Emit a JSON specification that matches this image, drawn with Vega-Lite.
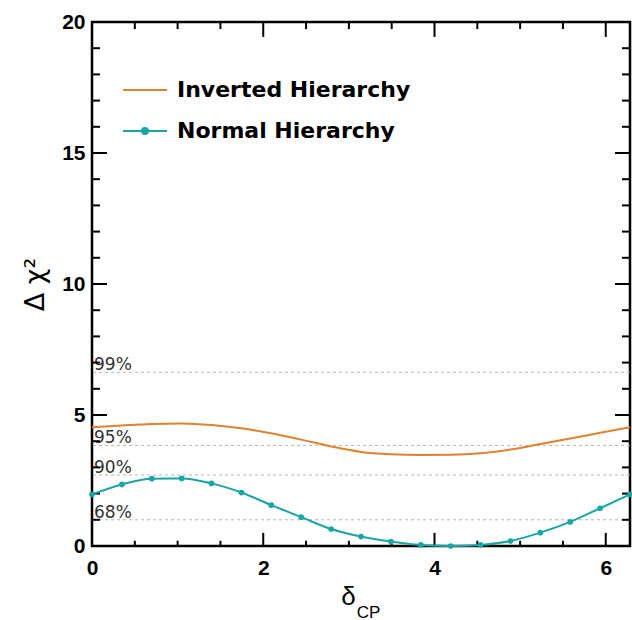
{
  "$schema": "https://vega.github.io/schema/vega-lite/v6.json",
  "width": 538,
  "height": 524,
  "autosize": {"type": "none"},
  "padding": {"left": 92, "top": 22, "right": 2, "bottom": 74},
  "background": "white",
  "config": {
    "view": {"stroke": "black", "strokeWidth": 2.5},
    "font": "Liberation Sans",
    "axis": {"grid": false, "domain": false}
  },
  "datasets": {
    "curves": [
      {"series": "Inverted Hierarchy", "delta": 0.000, "chi2": 4.53},
      {"series": "Inverted Hierarchy", "delta": 0.349, "chi2": 4.60},
      {"series": "Inverted Hierarchy", "delta": 0.698, "chi2": 4.66},
      {"series": "Inverted Hierarchy", "delta": 1.047, "chi2": 4.68},
      {"series": "Inverted Hierarchy", "delta": 1.396, "chi2": 4.62},
      {"series": "Inverted Hierarchy", "delta": 1.745, "chi2": 4.49},
      {"series": "Inverted Hierarchy", "delta": 2.094, "chi2": 4.30},
      {"series": "Inverted Hierarchy", "delta": 2.443, "chi2": 4.06},
      {"series": "Inverted Hierarchy", "delta": 2.793, "chi2": 3.80},
      {"series": "Inverted Hierarchy", "delta": 3.142, "chi2": 3.59},
      {"series": "Inverted Hierarchy", "delta": 3.491, "chi2": 3.50},
      {"series": "Inverted Hierarchy", "delta": 3.840, "chi2": 3.47},
      {"series": "Inverted Hierarchy", "delta": 4.189, "chi2": 3.48},
      {"series": "Inverted Hierarchy", "delta": 4.538, "chi2": 3.54},
      {"series": "Inverted Hierarchy", "delta": 4.887, "chi2": 3.68},
      {"series": "Inverted Hierarchy", "delta": 5.236, "chi2": 3.89},
      {"series": "Inverted Hierarchy", "delta": 5.585, "chi2": 4.10},
      {"series": "Inverted Hierarchy", "delta": 5.934, "chi2": 4.32},
      {"series": "Inverted Hierarchy", "delta": 6.283, "chi2": 4.53},
      {"series": "Normal Hierarchy", "delta": 0.000, "chi2": 1.97},
      {"series": "Normal Hierarchy", "delta": 0.349, "chi2": 2.35},
      {"series": "Normal Hierarchy", "delta": 0.698, "chi2": 2.57},
      {"series": "Normal Hierarchy", "delta": 1.047, "chi2": 2.58},
      {"series": "Normal Hierarchy", "delta": 1.396, "chi2": 2.39},
      {"series": "Normal Hierarchy", "delta": 1.745, "chi2": 2.04},
      {"series": "Normal Hierarchy", "delta": 2.094, "chi2": 1.56},
      {"series": "Normal Hierarchy", "delta": 2.443, "chi2": 1.10},
      {"series": "Normal Hierarchy", "delta": 2.793, "chi2": 0.65},
      {"series": "Normal Hierarchy", "delta": 3.142, "chi2": 0.36},
      {"series": "Normal Hierarchy", "delta": 3.491, "chi2": 0.17},
      {"series": "Normal Hierarchy", "delta": 3.840, "chi2": 0.04},
      {"series": "Normal Hierarchy", "delta": 4.189, "chi2": 0.00},
      {"series": "Normal Hierarchy", "delta": 4.538, "chi2": 0.04},
      {"series": "Normal Hierarchy", "delta": 4.887, "chi2": 0.19},
      {"series": "Normal Hierarchy", "delta": 5.236, "chi2": 0.51},
      {"series": "Normal Hierarchy", "delta": 5.585, "chi2": 0.92},
      {"series": "Normal Hierarchy", "delta": 5.934, "chi2": 1.44},
      {"series": "Normal Hierarchy", "delta": 6.283, "chi2": 1.97}
    ],
    "cl": [
      {"level": "99%", "value": 6.63},
      {"level": "95%", "value": 3.84},
      {"level": "90%", "value": 2.71},
      {"level": "68%", "value": 1.0}
    ],
    "ymajor": [{"v": 0}, {"v": 5}, {"v": 10}, {"v": 15}, {"v": 20}],
    "yminor": [{"v": 1}, {"v": 2}, {"v": 3}, {"v": 4}, {"v": 6}, {"v": 7}, {"v": 8}, {"v": 9}, {"v": 11}, {"v": 12}, {"v": 13}, {"v": 14}, {"v": 16}, {"v": 17}, {"v": 18}, {"v": 19}],
    "xmajor": [{"v": 0}, {"v": 2}, {"v": 4}, {"v": 6}],
    "xminor": [{"v": 0.5}, {"v": 1}, {"v": 1.5}, {"v": 2.5}, {"v": 3}, {"v": 3.5}, {"v": 4.5}, {"v": 5}, {"v": 5.5}]
  },
  "resolve": {"scale": {"x": "shared", "y": "shared", "color": "shared"}, "axis": {"x": "independent", "y": "independent"}},
  "layer": [
    {
      "data": {"name": "cl"},
      "mark": {"type": "rule", "stroke": "#b4b4b4", "strokeDash": [3, 3], "strokeWidth": 1},
      "encoding": {
        "y": {"field": "value", "type": "quantitative", "scale": {"domain": [0, 20], "nice": false, "zero": false},
          "axis": {"orient": "left", "offset": -15, "values": [0, 5, 10, 15, 20], "ticks": false, "tickSize": 15, "labelPadding": 22, "labelFontSize": 21, "labelFontWeight": "bold", "labelColor": "black", "labelFont": "Liberation Sans", "labelFlush": false, "labelOverlap": false,
            "title": "Δ χ²", "titleColor": "black", "titleFont": "DejaVu Sans", "titleFontSize": 27, "titleFontWeight": "normal", "titleX": -64, "titleY": 262, "titleAngle": -90, "titleAlign": "center", "titleBaseline": "alphabetic"}}
      }
    },
    {
      "data": {"name": "cl"},
      "mark": {"type": "text", "align": "left", "baseline": "alphabetic", "dx": 2, "dy": -2, "fontSize": 17, "color": "#333", "font": "DejaVu Sans"},
      "encoding": {
        "x": {"datum": 0, "type": "quantitative", "axis": null},
        "y": {"field": "value", "type": "quantitative", "axis": null},
        "text": {"field": "level"}
      }
    },
    {
      "data": {"name": "ymajor"},
      "mark": {"type": "rule", "color": "black", "strokeWidth": 2},
      "encoding": {"y": {"field": "v", "type": "quantitative", "axis": null}, "x": {"datum": 0, "type": "quantitative", "axis": null}, "x2": {"datum": 0.175}}
    },
    {
      "data": {"name": "ymajor"},
      "mark": {"type": "rule", "color": "black", "strokeWidth": 2},
      "encoding": {"y": {"field": "v", "type": "quantitative", "axis": null}, "x": {"datum": 6.2832, "type": "quantitative", "axis": null}, "x2": {"datum": 6.108}}
    },
    {
      "data": {"name": "yminor"},
      "mark": {"type": "rule", "color": "black", "strokeWidth": 2},
      "encoding": {"y": {"field": "v", "type": "quantitative", "axis": null}, "x": {"datum": 0, "type": "quantitative", "axis": null}, "x2": {"datum": 0.093}}
    },
    {
      "data": {"name": "yminor"},
      "mark": {"type": "rule", "color": "black", "strokeWidth": 2},
      "encoding": {"y": {"field": "v", "type": "quantitative", "axis": null}, "x": {"datum": 6.2832, "type": "quantitative", "axis": null}, "x2": {"datum": 6.19}}
    },
    {
      "data": {"name": "xmajor"},
      "mark": {"type": "rule", "color": "black", "strokeWidth": 2},
      "encoding": {"x": {"field": "v", "type": "quantitative", "axis": null}, "y": {"datum": 0, "type": "quantitative", "axis": null}, "y2": {"datum": 0.5}}
    },
    {
      "data": {"name": "xmajor"},
      "mark": {"type": "rule", "color": "black", "strokeWidth": 2},
      "encoding": {"x": {"field": "v", "type": "quantitative", "axis": null}, "y": {"datum": 20, "type": "quantitative", "axis": null}, "y2": {"datum": 19.43}}
    },
    {
      "data": {"name": "xminor"},
      "mark": {"type": "rule", "color": "black", "strokeWidth": 2},
      "encoding": {"x": {"field": "v", "type": "quantitative", "axis": null}, "y": {"datum": 0, "type": "quantitative", "axis": null}, "y2": {"datum": 0.2}}
    },
    {
      "data": {"name": "xminor"},
      "mark": {"type": "rule", "color": "black", "strokeWidth": 2},
      "encoding": {"x": {"field": "v", "type": "quantitative", "axis": null}, "y": {"datum": 20, "type": "quantitative", "axis": null}, "y2": {"datum": 19.73}}
    },
    {
      "data": {"name": "curves"},
      "transform": [{"filter": "datum.series === 'Inverted Hierarchy'"}],
      "mark": {"type": "line", "strokeWidth": 2, "interpolate": "monotone"},
      "encoding": {
        "x": {"field": "delta", "type": "quantitative", "scale": {"domain": [0, 6.2832], "nice": false, "zero": false},
          "axis": {"orient": "bottom", "offset": -13, "values": [0, 2, 4, 6], "ticks": false, "tickSize": 13, "labelPadding": 24, "labelFontSize": 21, "labelFontWeight": "bold", "labelColor": "black", "labelFont": "Liberation Sans", "labelFlush": false, "labelOverlap": false,
            "title": "δ", "titleColor": "black", "titleFont": "Liberation Sans", "titleFontSize": 26, "titleFontWeight": "normal", "titleX": 256, "titleY": 71, "titleAlign": "center", "titleBaseline": "alphabetic"}},
        "y": {"field": "chi2", "type": "quantitative", "axis": null},
        "color": {"field": "series", "type": "nominal",
          "scale": {"domain": ["Inverted Hierarchy", "Normal Hierarchy"], "range": ["#e0822e", "#1aa5a5"]},
          "legend": {"orient": "none", "legendX": 41, "legendY": 56, "title": null, "padding": 0, "labelFontSize": 22, "labelFontWeight": "bold", "labelFont": "DejaVu Sans", "labelColor": "black",
            "labelOffset": 20, "symbolSize": 484, "rowPadding": 18, "symbolStrokeWidth": 2, "labelLimit": 400,
            "encode": {"symbols": {"update": {
              "shape": {"signal": "datum.value === 'Normal Hierarchy' ? 'M-2,0H2M-0.27,0A0.27,0.27,0,1,1,0.27,0A0.27,0.27,0,1,1,-0.27,0' : 'M-2,0H2'"},
              "fill": {"signal": "datum.value === 'Normal Hierarchy' ? '#1aa5a5' : 'transparent'"}}}}}}
      }
    },
    {
      "data": {"name": "curves"},
      "transform": [{"filter": "datum.series === 'Normal Hierarchy'"}],
      "mark": {"type": "line", "strokeWidth": 2, "interpolate": "monotone"},
      "encoding": {
        "x": {"field": "delta", "type": "quantitative",
          "axis": {"orient": "bottom", "offset": -5, "values": [0], "ticks": false, "tickSize": 5, "labels": false,
            "title": "CP", "titleColor": "black", "titleFont": "Liberation Sans", "titleFontSize": 17, "titleFontWeight": "normal", "titleX": 276, "titleY": 76, "titleAlign": "center", "titleBaseline": "alphabetic"}},
        "y": {"field": "chi2", "type": "quantitative", "axis": null},
        "color": {"field": "series", "type": "nominal"}
      }
    },
    {
      "data": {"name": "curves"},
      "transform": [{"filter": "datum.series === 'Normal Hierarchy'"}],
      "mark": {"type": "point", "filled": true, "size": 32, "opacity": 1, "color": "#1aa5a5"},
      "encoding": {
        "x": {"field": "delta", "type": "quantitative", "axis": null},
        "y": {"field": "chi2", "type": "quantitative", "axis": null}
      }
    }
  ]
}
